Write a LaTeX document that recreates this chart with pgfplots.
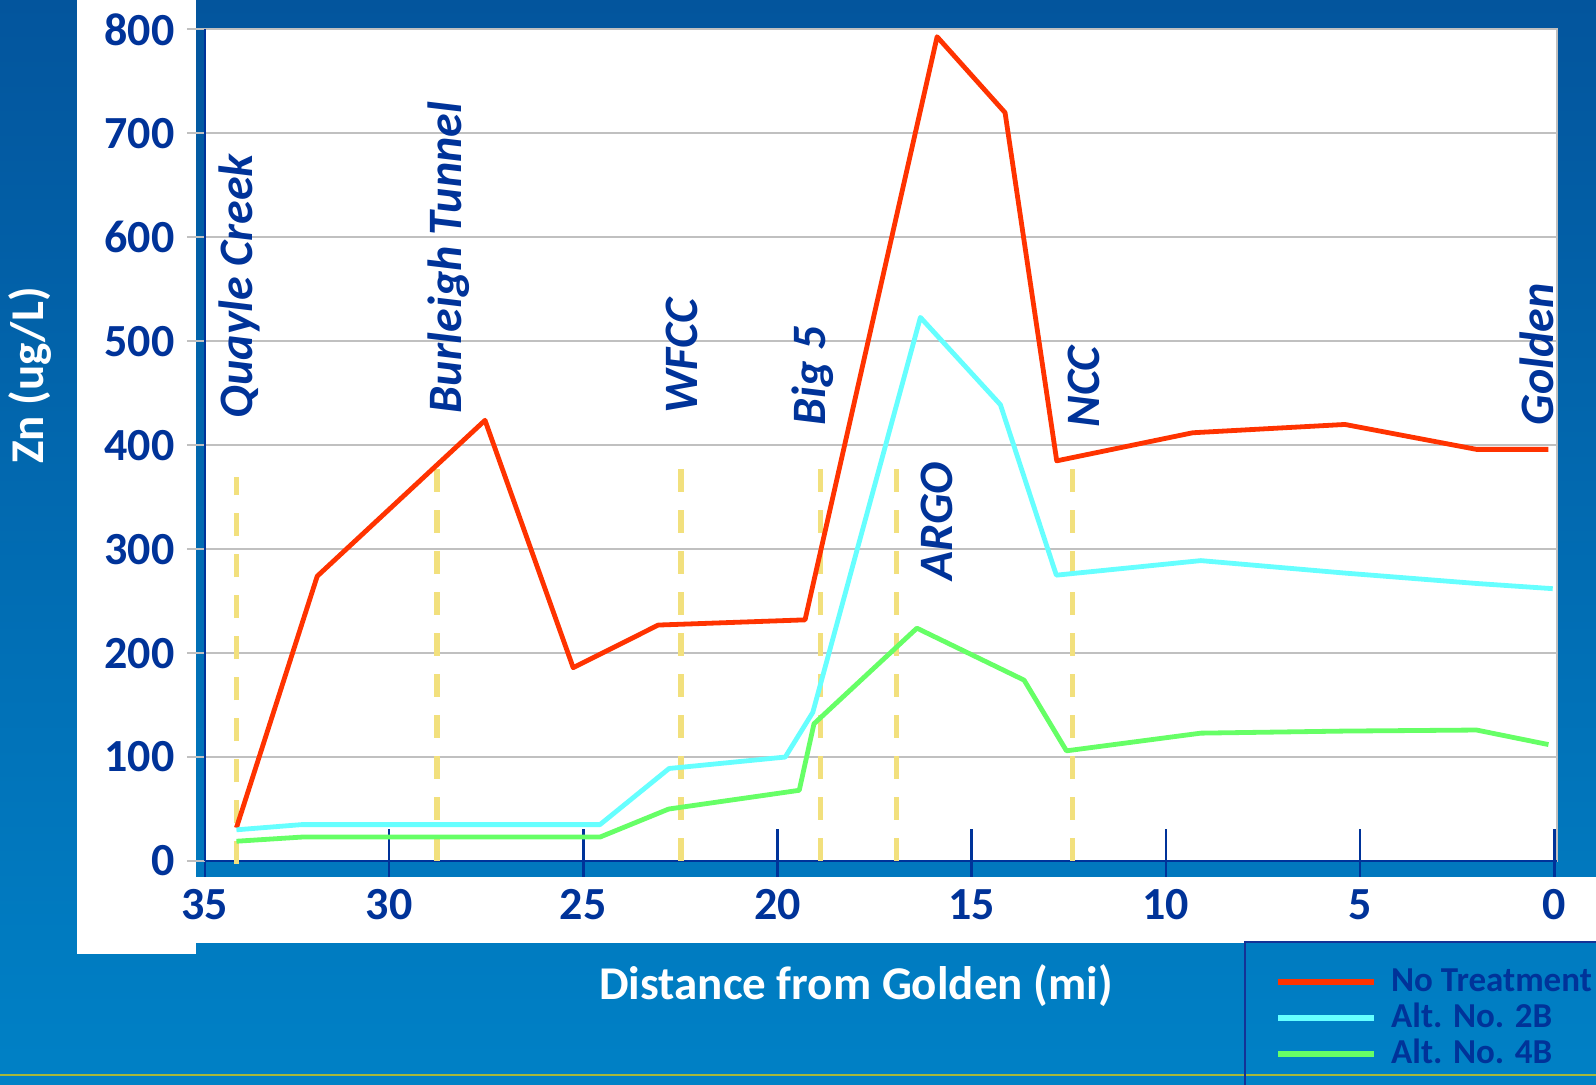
\documentclass[border=0pt]{standalone}
\usepackage{pgfplots}
\pgfplotsset{compat=1.18}
\usepackage{fontspec}
\setmainfont{Carlito}

\definecolor{bgtop}{RGB}{3,85,157}
\definecolor{bgbot}{RGB}{0,129,198}
\definecolor{dkblue}{RGB}{0,51,153}
\definecolor{legblue}{RGB}{20,50,150}
\definecolor{redline}{RGB}{255,51,0}
\definecolor{cyanline}{RGB}{102,255,255}
\definecolor{greenline}{RGB}{102,255,102}
\definecolor{station}{RGB}{242,224,125}
\definecolor{gridgray}{RGB}{192,192,192}
\definecolor{footer}{RGB}{166,184,58}

\newcommand{\tickfont}{\fontsize{23}{23}\selectfont\bfseries}
\newcommand{\stnfont}{\fontsize{24}{24}\selectfont\bfseries\itshape}
\newcommand{\titlefont}{\fontsize{23.5}{23.5}\selectfont\bfseries}
\newcommand{\legfont}{\fontsize{17.5}{17.5}\selectfont\bfseries}

\begin{document}
\begin{tikzpicture}
\useasboundingbox (0,0) rectangle (798pt,542.5pt);
\clip (0,0) rectangle (798pt,542.5pt);
% slide background
\shade[top color=bgtop, bottom color=bgbot] (0,0) rectangle (798pt,542.5pt);
\fill[white] (38.5pt,65.5pt) rectangle (98pt,542.5pt);
\fill[white] (98pt,71pt) rectangle (798pt,104pt);
\draw[footer, line width=1pt] (0,5.2pt) -- (798pt,5.2pt);

\begin{axis}[
  at={(102.5pt,112pt)}, anchor=south west,
  scale only axis, width=675.8pt, height=415.75pt,
  xmin=-0.06, xmax=34.74, ymin=0, ymax=800,
  x dir=reverse,
  axis lines*=left,
  axis line style={draw=dkblue, line width=1.4pt},
  axis background/.style={fill=white, draw=gridgray, line width=1pt},
  ymajorgrids,
  major grid style={draw=gridgray, line width=1pt},
  xtick={0,5,10,15,20,25,30,34.74},
  xticklabels={0,5,10,15,20,25,30,35},
  ytick={0,100,...,800},
  tick align=inside, major tick length=24pt,
  xtick style={draw=dkblue, line width=1.3pt, yshift=-8pt},
  ytick style={draw=gridgray, line width=1pt, xshift=-9pt},
  ticklabel style={font=\tickfont, text=dkblue},
  /pgf/number format/assume math mode=true,
  xticklabel style={anchor=center, inner sep=0pt, yshift=-22pt},
  yticklabel style={anchor=east, inner sep=0pt, xshift=-15pt},
  clip=false,
  legend cell align=left,
  legend image code/.code={\draw[#1, line width=3pt] (0pt,0pt) -- (48pt,0pt);},
  legend style={at={(0.7687,-0.0962)}, anchor=north west,
    draw=legblue, line width=1.2pt, fill=none,
    inner xsep=15pt, inner ysep=12.85pt, row sep=4pt, column sep=7pt,
    nodes={inner sep=0pt, text height=12pt, text depth=2pt,
      font=\legfont, text=dkblue}},
]

% station markers
\addplot[forget plot, station, line width=2.7pt, dash pattern=on 11.5pt off 9pt]
  coordinates {(33.93,-3) (33.93,369)};
\addplot[forget plot, station, line width=2.7pt, dash pattern=on 11.5pt off 9pt]
  coordinates {(28.77,0) (28.77,377)};
\addplot[forget plot, station, line width=2.7pt, dash pattern=on 11.5pt off 9pt]
  coordinates {(22.48,0) (22.48,377)};
\addplot[forget plot, station, line width=2.7pt, dash pattern=on 11.5pt off 9pt]
  coordinates {(18.89,0) (18.89,377)};
\addplot[forget plot, station, line width=2.7pt, dash pattern=on 11.5pt off 9pt]
  coordinates {(16.93,0) (16.93,377)};
\addplot[forget plot, station, line width=2.7pt, dash pattern=on 11.5pt off 9pt]
  coordinates {(12.41,0) (12.41,377)};

% Zn concentration along the creek
\addplot[redline, line width=2.4pt, line join=round] coordinates {
  (33.93,32) (31.85,274) (27.53,424) (25.26,186) (23.07,227) (19.29,232)
  (15.89,793) (14.14,720) (12.81,385) (9.31,412) (5.39,420) (2.00,396) (0.15,396)};
\addlegendentry{No Treatment}
\addplot[cyanline, line width=2.4pt, line join=round] coordinates {
  (33.93,30) (32.25,35) (24.57,35) (22.79,89) (19.80,100) (19.09,143)
  (16.32,523) (14.26,439) (12.82,275) (9.10,289) (5.39,277) (2.00,267) (0.04,262)};
\addlegendentry{Alt. No. 2B}
\addplot[greenline, line width=2.4pt, line join=round] coordinates {
  (33.93,19) (32.25,23) (24.57,23) (22.80,50) (19.44,68) (19.06,132)
  (16.41,224) (13.65,174) (12.56,106) (9.10,123) (5.39,125) (2.00,126) (0.15,112)};
\addlegendentry{Alt. No. 4B}

% station names
\begin{scope}[every node/.style={rotate=90, anchor=base west, inner sep=0pt,
    font=\stnfont, text=dkblue}]
\node at (axis cs:33.52,425.7) {Quayle Creek};
\node at (axis cs:28.13,430.5) {Burleigh Tunnel};
\node at (axis cs:22.05,430) {WFCC};
\node at (axis cs:18.77,418.5) {Big 5};
\node at (axis cs:15.49,269.4) {ARGO};
\node at (axis cs:11.71,416.7) {NCC};
\node at (axis cs:0.03,419) {Golden};
\end{scope}
\end{axis}

\node[white, font=\titlefont, rotate=90] at (15.25pt,354.65pt) {Zn (ug/L)};
\node[white, font=\titlefont] at (428pt,49.75pt) {Distance from Golden (mi)};
\end{tikzpicture}
\end{document}
